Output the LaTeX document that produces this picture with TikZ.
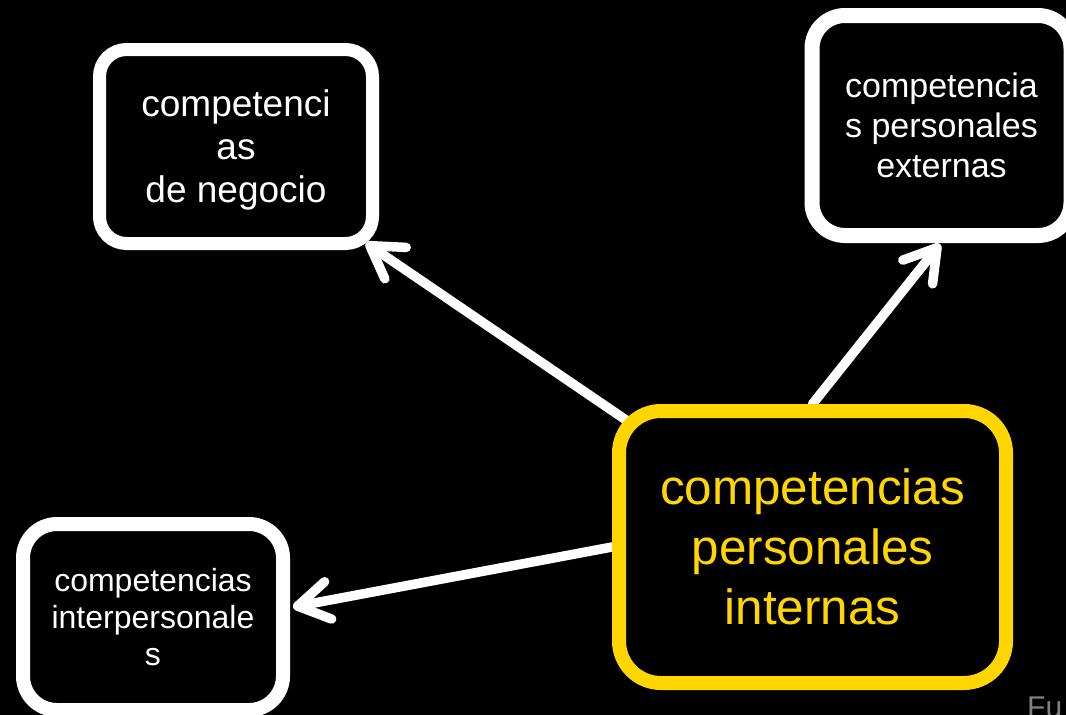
\documentclass[tikz,border=0pt]{standalone}
\usepackage{fontspec}
\setmainfont{Liberation Sans}
\usetikzlibrary{arrows.meta}
\pgfdeclarelayer{bg}
\pgfsetlayers{bg,main}
\definecolor{gold}{HTML}{FFD600}
\definecolor{srcgray}{HTML}{808080}
\begin{document}
\begin{tikzpicture}[x=1pt,y=-1pt,
  box/.style={draw=white, fill=black, rounded corners=#1, inner sep=0pt, align=center, text=white},
  arr/.style={draw=white, line width=9.5pt, line cap=round, -{Straight Barb[length=31pt,width=38pt,round]}}]
\useasboundingbox (0,0) rectangle (1066,715);
\node[box=27pt, line width=13pt, minimum width=273pt, minimum height=194pt,
      font=\fontsize{37}{43}\selectfont] (n1) at (236,146.5) {competenci\\as\\de ne\smash{g}ocio};
\node[box=33pt, line width=15pt, minimum width=259pt, minimum height=220pt,
      font=\fontsize{34}{40}\selectfont] (n2) at (941.5,125.5) {competencia\\s personales\\externas};
\node[box=34pt, line width=14pt, minimum width=260pt, minimum height=186pt,
      font=\fontsize{32}{37}\selectfont] (n3) at (153,617) {competencias\\interpersonale\\s};
\node[box=42pt, draw=gold, text=gold, line width=14pt, minimum width=387pt, minimum height=272pt,
      font=\fontsize{49.4}{60}\selectfont] (n4) at (812.5,547) {competencias\\personales\\internas};
\node[anchor=base west, inner sep=0pt, text=srcgray, font=\fontsize{30}{36}\selectfont] (src) at (1027,717) {Fu};
\coordinate (t1) at (366,243);
\coordinate (t2) at (940,244);
\coordinate (t3) at (293,607);
\begin{pgfonlayer}{bg}
\fill[black] (0,0) rectangle (1066,715);
\draw[arr] (n4.center) -- (t1);
\draw[arr] (n4.north) -- (t2);
\draw[arr] (n4.west) -- (t3);
\end{pgfonlayer}
\end{tikzpicture}
\end{document}
